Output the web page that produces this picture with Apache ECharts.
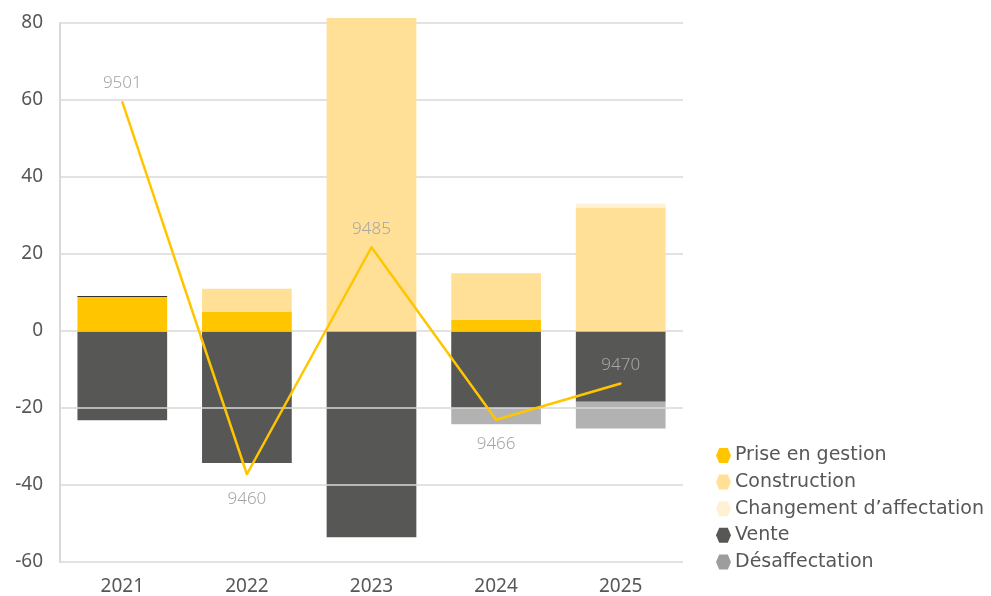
<!DOCTYPE html>
<html>
<head>
<meta charset="utf-8">
<script src="https://cdn.jsdelivr.net/npm/echarts@6/dist/echarts.min.js"></script>
<style>
  html, body { margin: 0; padding: 0; background: #ffffff; overflow: hidden; }
  #chart { width: 991px; height: 596px; }
</style>
</head>
<body>
<div id="chart"></div>
<script>
// Years on the category axis
const years = ['2021', '2022', '2023', '2024', '2025'];

// Additions (stacked above zero)
const priseEnGestion = [8.8, 5, 0, 2.9, 0];
const construction = [0, 6, 81.3, 12.1, 32.1];
const changementAffectation = [0, 0, 0, 0, 1];
// thin dark cap on the 2021 column
const venteCap = [0.3, 0, 0, 0, 0];

// Removals (stacked below zero)
const vente = [-23.2, -34.3, -53.6, -20, -18.4];
const desaffectation = [0, 0, 0, -4.2, -6.9];

// Total stock (secondary scale, labelled on the line)
const stock = [9501, 9460, 9485, 9466, 9470];
const stockLabelPos = ['top', 'bottom', 'top', 'bottom', 'top'];

// Left axis ticks
const leftMin = -60, leftMax = 80, leftStep = 20;

const FONT = 'Noto Sans';
const LEGEND_FONT = 'DejaVu Sans';
const TEXT = '#575756';

const colors = {
  prise: '#FFC600',
  construction: '#FFE096',
  changement: '#FFF1D4',
  vente: '#575756',
  desaff: '#B2B2B2'
};

const hexIcon = 'path://M3,0 L11,0 L14,7 L11,14 L3,14 L0,7 Z';

const chart = echarts.init(document.getElementById('chart'), null, { renderer: 'canvas' });

function barSeries(name, data, color, z) {
  return {
    name: name,
    type: 'bar',
    stack: 'flux',
    data: data,
    barWidth: '72%',
    clip: false,
    z: z,
    itemStyle: { color: color },
    emphasis: { disabled: true }
  };
}

chart.setOption({
  animation: false,
  textStyle: { fontFamily: FONT },
  grid: { left: 60, right: 308, top: 23, bottom: 32, containLabel: false },
  legend: {
    orient: 'vertical',
    left: 711,
    top: 441,
    itemWidth: 15,
    itemHeight: 15,
    itemGap: 7.6,
    icon: hexIcon,
    textStyle: { fontFamily: LEGEND_FONT, fontSize: 19, color: TEXT, padding: [0, 0, 0, -1] },
    data: [
      { name: 'Prise en gestion', itemStyle: { color: colors.prise } },
      { name: 'Construction', itemStyle: { color: colors.construction } },
      { name: 'Changement d\u2019affectation', itemStyle: { color: colors.changement } },
      { name: 'Vente', itemStyle: { color: colors.vente } },
      { name: 'Désaffectation', itemStyle: { color: '#9D9D9C' } }
    ]
  },
  xAxis: {
    type: 'category',
    data: years,
    axisLine: { show: false, onZero: false },
    axisTick: { show: false },
    axisLabel: { fontFamily: FONT, fontSize: 19, color: TEXT, margin: 15 }
  },
  yAxis: [
    {
      type: 'value',
      min: leftMin,
      max: leftMax,
      interval: leftStep,
      z: 2.5,
      axisLine: { show: true, lineStyle: { color: '#D9D9D9', width: 2 } },
      axisTick: { show: false },
      splitLine: { show: true, lineStyle: { color: '#D9D9D9', width: 1.5 } },
      axisLabel: { fontFamily: FONT, fontSize: 19, color: TEXT, margin: 17 }
    },
    {
      type: 'value',
      min: 9450.34,
      max: 9509.69,
      show: false,
      splitLine: { show: false }
    }
  ],
  series: [
    barSeries('Prise en gestion', priseEnGestion, colors.prise, 3),
    barSeries('Construction', construction, colors.construction, 3),
    barSeries('Changement d\u2019affectation', changementAffectation, colors.changement, 3),
    barSeries('Vente', venteCap, '#333333', 3),
    barSeries('Vente', vente, colors.vente, 2),
    barSeries('Désaffectation', desaffectation, colors.desaff, 2),
    {
      name: 'Stock',
      type: 'line',
      yAxisIndex: 1,
      z: 6,
      showSymbol: true,
      symbol: 'circle',
      symbolSize: 2,
      itemStyle: { color: '#FFC600' },
      lineStyle: { color: '#FFC600', width: 2.5 },
      data: stock.map((v, i) => ({
        value: v,
        label: {
          show: true,
          position: stockLabelPos[i],
          distance: stockLabelPos[i] === 'top' ? 9 : 15
        }
      })),
      label: {
        show: true,
        fontFamily: FONT,
        fontSize: 17,
        fontWeight: 300,
        color: '#A6A6A6'
      },
      labelLayout: { hideOverlap: false },
      emphasis: { disabled: true }
    }
  ]
});
</script>
</body>
</html>
